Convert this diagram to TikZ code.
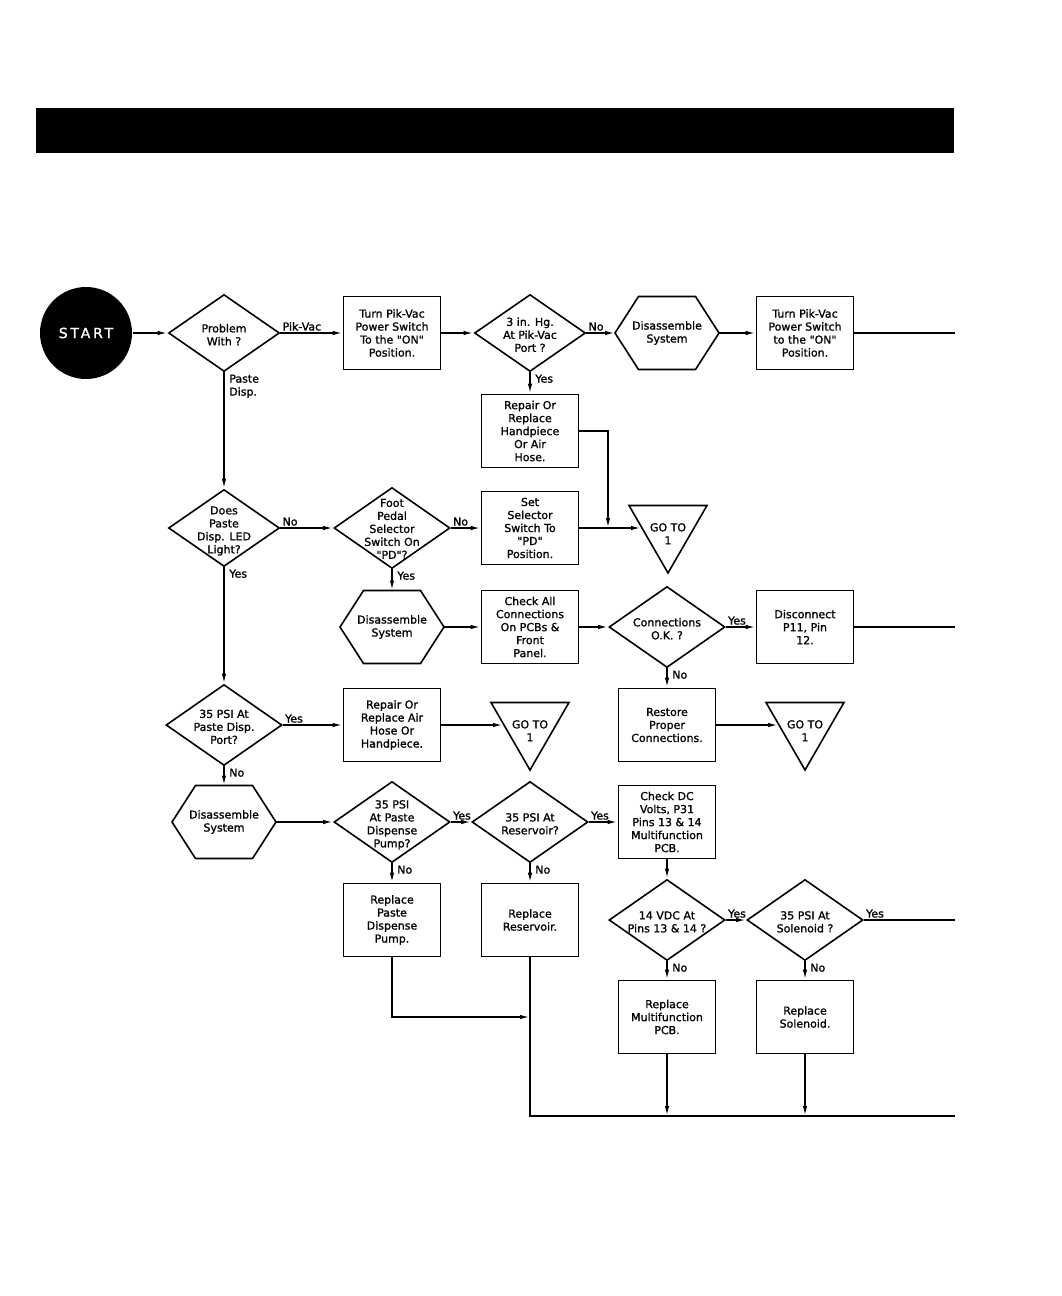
\documentclass[tikz,border=0pt]{standalone}
\usepackage{fontspec}
\setmainfont{DejaVu Sans}[Ligatures=TeXOff,FakeBold=1.2]
\newfontfamily\startfont[LetterSpace=20,FakeBold=1.5]{DejaVu Sans}
\usetikzlibrary{arrows.meta,shapes.geometric}
\newcommand{\lbl}[2][-6pt]{\makebox[0pt]{\raisebox{#1}[0pt][0pt]{\begin{tabular}{@{}c@{}}#2\end{tabular}}}}
\tikzset{
  box/.style={draw,minimum width=97pt,minimum height=73pt,inner sep=0pt,align=center},
  decision/.style={draw,diamond,minimum width=116pt,minimum height=81pt,inner sep=0pt},
  smalldec/.style={minimum width=111pt,minimum height=77pt},
  hexa/.style={minimum width=104pt,minimum height=73pt,inner sep=0pt,outer sep=0pt,align=center,
    append after command={\pgfextra{\draw ([xshift=23.5pt]\tikzlastnode.north west)
      -- ([xshift=-23.5pt]\tikzlastnode.north east) -- (\tikzlastnode.east)
      -- ([xshift=-23.5pt]\tikzlastnode.south east) -- ([xshift=23.5pt]\tikzlastnode.south west)
      -- (\tikzlastnode.west) -- cycle;}}},
  goto/.style={draw,regular polygon,regular polygon sides=3,shape border rotate=180,minimum size=90pt,inner sep=0pt},
  startnode/.style={circle,fill=black,minimum size=92pt,inner sep=0pt,text=white,font=\startfont\fontsize{14}{14}\selectfont},
  lab/.style={inner sep=1.5pt,align=left},
  labdown/.style={inner xsep=4.5pt,inner ysep=1.5pt,align=left}
}
\begin{document}
\begin{tikzpicture}[x=1pt,y=-1pt,>={Latex[length=10pt,width=4.4pt]},line width=1.6pt,font=\fontsize{11}{13}\selectfont]
\useasboundingbox (0,0) rectangle (1062,1296);
\fill (36,108) rectangle (954,153);
% row 1
\node[startnode] (start) at (86,333) {START};
\node[decision,smalldec] (prob) at (224,333) {\lbl{Problem\\With ?}};
\node[box] (turn1) at (392,333) {Turn Pik-Vac\\Power Switch\\To the "ON"\\Position.};
\node[decision,smalldec] (hg) at (530,333) {\lbl{3 in. Hg.\\At Pik-Vac\\Port ?}};
\node[hexa] (dis1) at (667,333) {Disassemble\\System};
\node[box] (turn2) at (805,333) {Turn Pik-Vac\\Power Switch\\to the "ON"\\Position.};
\node[box] (rep1) at (530,431) {Repair Or\\Replace\\Handpiece\\Or Air\\Hose.};
% row 2
\node[decision,smalldec] (led) at (224,528) {\lbl{Does\\Paste\\Disp. LED\\Light?}};
\node[decision] (foot) at (392,528) {\lbl[-5pt]{Foot\\Pedal\\Selector\\Switch On\\"PD"?}};
\node[box] (set) at (530,528) {Set\\Selector\\Switch To\\"PD"\\Position.};
\node[goto] (goto1) at (668,528) {\lbl[-10pt]{GO TO\\1}};
\node[hexa] (dis2) at (392,627) {Disassemble\\System};
\node[box] (chk) at (530,627) {Check All\\Connections\\On PCBs \&\\Front\\Panel.};
\node[decision] (conn) at (667,627) {\lbl{Connections\\O.K. ?}};
\node[box] (disc) at (805,627) {Disconnect\\P11, Pin\\12.};
% row 3
\node[decision] (psi1) at (224,725) {\lbl{35 PSI At\\Paste Disp.\\Port?}};
\node[box] (rep2) at (392,725) {Repair Or\\Replace Air\\Hose Or\\Handpiece.};
\node[goto] (goto2) at (530,725) {\lbl[-10pt]{GO TO\\1}};
\node[box] (rest) at (667,725) {Restore\\Proper\\Connections.};
\node[goto] (goto3) at (805,725) {\lbl[-10pt]{GO TO\\1}};
% row 4
\node[hexa] (dis3) at (224,822) {Disassemble\\System};
\node[decision] (pump) at (392,822) {\lbl{35 PSI\\At Paste\\Dispense\\Pump?}};
\node[decision] (res) at (530,822) {\lbl{35 PSI At\\Reservoir?}};
\node[box] (dcv) at (667,822) {Check DC\\Volts, P31\\Pins 13 \& 14\\Multifunction\\PCB.};
\node[box] (rpump) at (392,920) {Replace\\Paste\\Dispense\\Pump.};
\node[box] (rres) at (530,920) {Replace\\Reservoir.};
\node[decision] (vdc) at (667,920) {\lbl{14 VDC At\\Pins 13 \& 14 ?}};
\node[decision] (sol) at (805,920) {\lbl{35 PSI At\\Solenoid ?}};
\node[box] (rpcb) at (667,1017) {Replace\\Multifunction\\PCB.};
\node[box] (rsol) at (805,1017) {Replace\\Solenoid.};
% loose ends
\coordinate (j1) at (608,528);
\coordinate (j2) at (530,1017);
\coordinate (e1) at (955,333);
\coordinate (e2) at (955,627);
\coordinate (e3) at (955,920);
\coordinate (e4) at (955,1116);
% connectors
\draw[->] (start.east) -- (prob.west);
\draw[->] (prob.east) -- node[lab,pos=0,above right]{Pik-Vac} (turn1.west);
\draw[->] (turn1.east) -- (hg.west);
\draw[->] (hg.east) -- node[lab,pos=0,above right]{No} (dis1.west);
\draw[->] (dis1.east) -- (turn2.west);
\draw (turn2.east) -- (e1);
\draw[->] (hg.south) -- node[labdown,pos=0,below right]{Yes} (rep1.north);
\draw[->] (rep1.east) -| (j1);
\draw[->] (prob.south) -- node[labdown,pos=0,below right]{Paste\\Disp.} (led.north);
\draw[->] (led.east) -- node[lab,pos=0,above right]{No} (foot.west);
\draw[->] (foot.east) -- node[lab,pos=0,above right]{No} (set.west);
\draw[->] (set.east) -- (goto1);
\draw[->] (foot.south) -- node[labdown,pos=0,below right]{Yes} (dis2.north);
\draw[->] (dis2.east) -- (chk.west);
\draw[->] (chk.east) -- (conn.west);
\draw[->] (conn.east) -- node[lab,pos=0,above right]{Yes} (disc.west);
\draw (disc.east) -- (e2);
\draw[->] (conn.south) -- node[labdown,pos=0,below right]{No} (rest.north);
\draw[->] (rest.east) -- (goto3);
\draw[->] (led.south) -- node[labdown,pos=0,below right]{Yes} (psi1.north);
\draw[->] (psi1.east) -- node[lab,pos=0,above right]{Yes} (rep2.west);
\draw[->] (rep2.east) -- (goto2);
\draw[->] (psi1.south) -- node[labdown,pos=0,below right]{No} (dis3.north);
\draw[->] (dis3.east) -- (pump.west);
\draw[->] (pump.east) -- node[lab,pos=0,above right]{Yes} (res.west);
\draw[->] (res.east) -- node[lab,pos=0,above right]{Yes} (dcv.west);
\draw[->] (pump.south) -- node[labdown,pos=0,below right]{No} (rpump.north);
\draw[->] (res.south) -- node[labdown,pos=0,below right]{No} (rres.north);
\draw[->] (dcv.south) -- (vdc.north);
\draw[->] (vdc.east) -- node[lab,pos=0,above right]{Yes} (sol.west);
\draw (sol.east) -- node[lab,pos=0,above right]{Yes} (e3);
\draw[->] (vdc.south) -- node[labdown,pos=0,below right]{No} (rpcb.north);
\draw[->] (sol.south) -- node[labdown,pos=0,below right]{No} (rsol.north);
\draw[->] (rpump.south) |- (j2);
\draw (rres.south) |- (e4);
\draw[->] (rpcb.south) -- (rpcb.south |- e4);
\draw[->] (rsol.south) -- (rsol.south |- e4);
\end{tikzpicture}
\end{document}
